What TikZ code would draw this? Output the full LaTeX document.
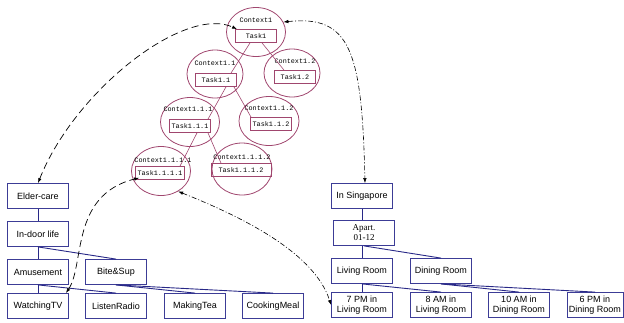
\documentclass[tikz,border=0pt]{standalone}
\usepackage{fontspec}
\setmainfont{Liberation Sans}
\newfontfamily\ctxfont{Liberation Mono}
\newfontfamily\aptfont{Liberation Serif}
\usetikzlibrary{shapes.geometric,arrows.meta,calc}
\definecolor{boxblue}{RGB}{60,60,150}
\definecolor{linkblue}{RGB}{40,40,135}
\definecolor{ctxred}{RGB}{160,70,110}
\tikzset{
  cbox/.style={draw=boxblue,line width=0.8pt,minimum width=61pt,minimum height=25pt,
    inner sep=1pt,align=center,font=\fontsize{9}{10}\selectfont},
  ctx/.style={draw=ctxred,line width=0.8pt,ellipse,minimum width=59pt,minimum height=49pt,inner sep=0pt},
  ctxlbl/.style={inner sep=0pt,font=\ctxfont\fontsize{6.8}{7}\selectfont},
  tbox/.style={draw=ctxred,line width=0.8pt,minimum width=41pt,minimum height=13pt,inner sep=2pt,
    font=\ctxfont\fontsize{6.8}{7}\selectfont},
  tline/.style={draw=ctxred,line width=0.6pt},
  bline/.style={draw=linkblue,line width=0.9pt},
  dlink/.style={line width=0.7pt,dash pattern=on 7pt off 4pt,
    {Latex[length=5pt,width=3.5pt]}-{Latex[length=5pt,width=3.5pt]}},
  ddlink/.style={line width=0.6pt,dash pattern=on 5pt off 2pt on 1pt off 2pt,
    {Latex[length=5pt,width=3.5pt]}-{Latex[length=5pt,width=3.5pt]}}
}

\begin{document}
\begin{tikzpicture}[x=1pt,y=-1pt]
\useasboundingbox (0,0) rectangle (624,322);

% contexts and tasks
\node[ctx] (c1) at (256,32) {};
\node[ctx,minimum width=56pt,minimum height=48pt] (c11) at (215,74) {};
\node[ctx,minimum width=56pt,minimum height=48pt] (c12) at (292,73) {};
\node[ctx] (c111) at (190,122) {};
\node[ctx,minimum width=60pt] (c112) at (269,121) {};
\node[ctx] (c1111) at (161,171) {};
\node[ctx,minimum width=60pt,minimum height=52pt] (c1112) at (242,169) {};

\node[ctxlbl] (l1) at (256,20) {Context1};
\node[ctxlbl] (l11) at (215,63) {Context1.1};
\node[ctxlbl] (l12) at (295,61) {Context1.2};
\node[ctxlbl] (l111) at (188,109) {Context1.1.1};
\node[ctxlbl] (l112) at (269,108) {Context1.1.2};
\node[ctxlbl] (l1111) at (163,160) {Context1.1.1.1};
\node[ctxlbl] (l1112) at (242,157) {Context1.1.1.2};

\node[tbox] (t1) at (256,36) {Task1};
\node[tbox] (t11) at (216,80) {Task1.1};
\node[tbox] (t12) at (295,77) {Task1.2};
\node[tbox] (t111) at (190,126) {Task1.1.1};
\node[tbox] (t112) at (271,124) {Task1.1.2};
\node[tbox] (t1111) at (160,173) {Task1.1.1.1};
\node[tbox,minimum width=60pt] (t1112) at (241,170) {Task1.1.1.2};

\draw[tline] ($(t1.south)+(-6,0)$) -- ($(t11.north)+(15,0)$);
\draw[tline] ($(t1.south)+(6,0)$) -- ($(t12.north)+(-11,0)$);
\draw[tline] ($(t11.south)+(10,0)$) -- ($(t111.north)+(18,0)$);
\draw[tline] ($(t11.south)+(18,0)$) -- ($(t112.north)+(-20,0)$);
\draw[tline] ($(t111.south)+(7,0)$) -- ($(t1111.north)+(20,0)$);
\draw[tline] ($(t111.south)+(18,0)$) -- ($(t1112.north)+(-20,0)$);

% activities
\node[cbox] (elder) at (38,196) {Elder-care};
\node[cbox] (indoor) at (38,234) {In-door life};
\node[cbox] (amuse) at (38,272) {Amusement};
\node[cbox] (bite) at (116,272) {Bite\&Sup};
\node[cbox] (watch) at (38,306) {WatchingTV};
\node[cbox] (radio) at (116,306) {ListenRadio};
\node[cbox] (tea) at (195,306) {MakingTea};
\node[cbox] (cook) at (273,306) {CookingMeal};

\draw[bline] (elder) -- (indoor);
\draw[bline] (indoor) -- (amuse);
\draw[bline] (indoor.south) -- (bite.north);
\draw[bline] (amuse) -- (watch);
\draw[bline] (amuse.south) -- (radio.north);
\draw[bline] (bite.south) -- (tea.north);
\draw[bline] (bite.south) -- (cook.north);

% locations
\node[cbox] (sing) at (362,196) {In Singapore};
\node[cbox,font=\aptfont\fontsize{9}{10}\selectfont] (apt) at (364,233) {Apart.\\01-12};
\node[cbox] (living) at (362,271) {Living Room};
\node[cbox] (dining) at (441,271) {Dining Room};
\node[cbox] (pm7) at (362,305) {7 PM in\\Living Room};
\node[cbox] (am8) at (441,305) {8 AM in\\Living Room};
\node[cbox] (am10) at (519,305) {10 AM in\\Dining Room};
\node[cbox,minimum width=56pt] (pm6) at (595,305) {6 PM in\\Dining Room};

\draw[bline] (sing.south) -- (sing.south |- apt.north);
\draw[bline] (apt.south -| living.north) -- (living.north);
\draw[bline] (apt.south) -- (dining.north);
\draw[bline] (living) -- (pm7);
\draw[bline] (living.south) -- (am8.north);
\draw[bline] (dining.south) -- (am10.north);
\draw[bline] (dining.south) -- (pm6.north);

% links
\draw[dlink] (elder.north) .. controls (75,90) and (185,5) .. (t1.160);
\draw[ddlink] (c1.20) .. controls (350,15) and (362,50) .. ($(sing.north)+(3,0)$);
\draw[dlink] ($(watch.north east)+(-3,0)$) .. controls (85,265) and (70,195) .. ($(t1111.south west)+(4,-2)$);
\draw[ddlink] (c1111.-50) .. controls (250,220) and (315,255) .. (pm7.west);
\end{tikzpicture}
\end{document}
